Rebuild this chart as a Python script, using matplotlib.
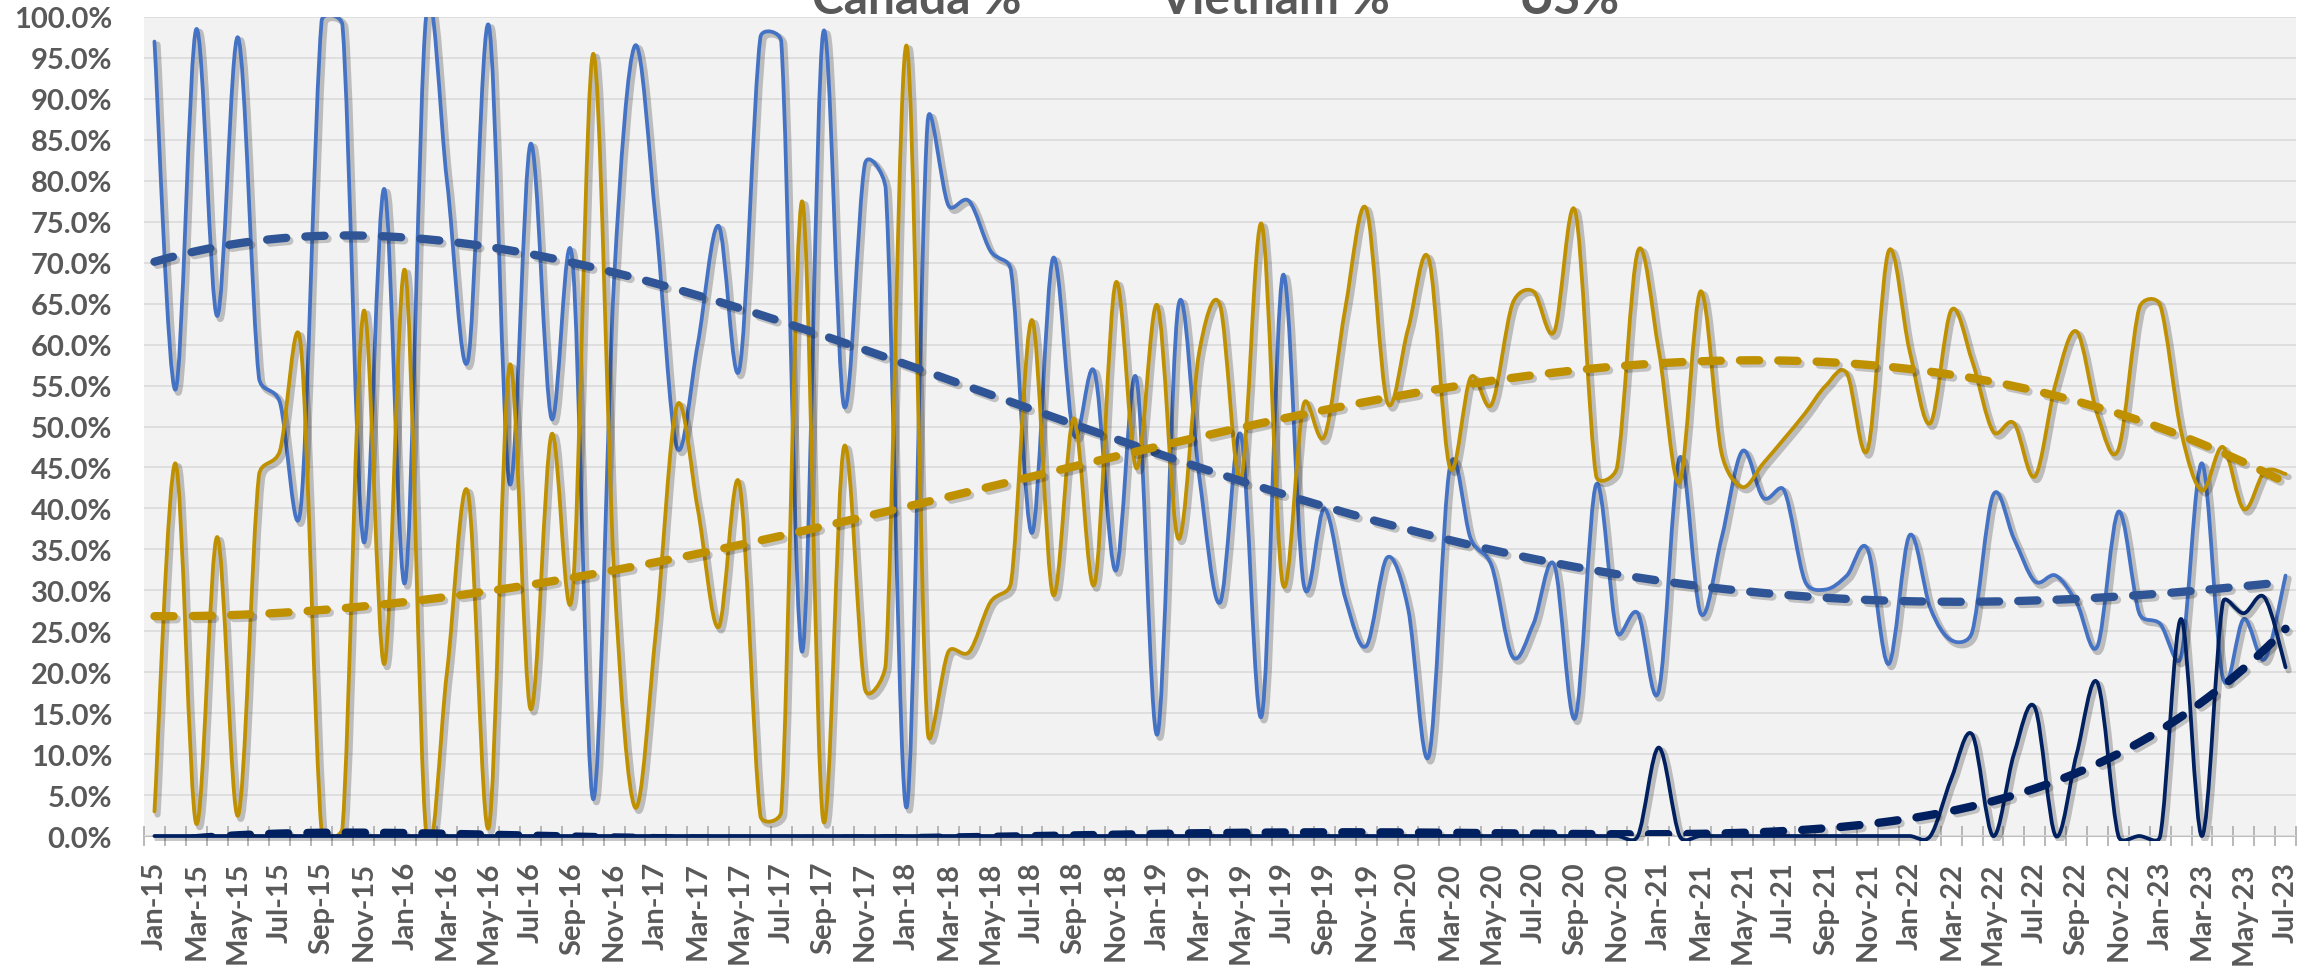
import numpy as np
import matplotlib
matplotlib.use("Agg")
import matplotlib.pyplot as plt
import matplotlib.patheffects as pe
from matplotlib.path import Path
from matplotlib.patches import PathPatch, Rectangle
from matplotlib.ticker import PercentFormatter

plt.rcParams['font.family'] = ['Lato', 'DejaVu Sans']

month_names = ["Jan", "Feb", "Mar", "Apr", "May", "Jun",
               "Jul", "Aug", "Sep", "Oct", "Nov", "Dec"]
# Jan-15 .. Jul-23
labels = [f"{m}-{y}" for y in range(15, 24) for m in month_names][:103]

canada = [97, 54.5, 98.5, 63.5, 97.5, 56, 53, 40, 99.5, 99, 36, 79,
          31, 100, 80, 58, 99, 43, 84.5, 51, 70.5, 4.5, 68, 96.5,
          75, 47.5, 60, 74.5, 57, 97.5, 97, 22.5, 98, 52.5, 82, 79,
          3.5, 87, 77, 77.5, 71.5, 69, 37, 70.5, 49, 56.6, 32.4, 55.9,
          12.4, 64.6, 44, 28.5, 49, 14.7, 68.4, 30.8, 40, 29, 23.2, 34,
          27.8, 9.8, 45, 36.3, 33, 21.9, 25.9, 33.1, 14.4, 42.9, 24.9, 27.2,
          17.7, 46.2, 27.2, 36.3, 47, 41.3, 42.2, 31.1, 30.1, 31.8, 35, 21,
          36.7, 27.8, 23.9, 24.9, 41.6, 36.3, 31.1, 31.8, 28.5, 23.2, 39.6, 27.2,
          25.9, 21.9, 45.5, 19.3, 26.5, 21.6, 31.8]

vietnam = [3, 45.5, 1.5, 36.5, 2.5, 44, 47, 60, 0.5, 1, 64, 21,
           69, 0.5, 20, 42, 1, 57.5, 15.5, 49, 29.5, 95.5, 32, 3.5,
           25, 52.5, 40, 25.5, 43, 2.5, 3, 77.5, 2, 47.5, 18, 21,
           96.5, 13, 22.5, 22.5, 28.5, 31, 63, 29.5, 51, 30.8, 67.5, 44.9,
           64.8, 36.3, 59, 64.8, 43.5, 74.7, 30.8, 52.7, 48.8, 64.5, 76.6, 53,
           61.9, 70.4, 45, 56, 52.7, 65, 66.5, 61.6, 76.3, 44, 45, 71.4,
           59.3, 43.2, 66.5, 46.8, 42.6, 45.5, 48.5, 51.6, 55, 56.5, 47.2, 71.4,
           59.3, 50.4, 64.2, 58, 49.4, 50.4, 43.9, 55.3, 61.6, 51.4, 47.2, 64.5,
           64.8, 49.4, 42.2, 47.5, 39.9, 44.5, 44.2]

us = [0] * 72 + [10.8] + [0] * 13 + [7, 12.4, 0, 10, 15.7, 0, 10, 18.7,
                                     0, 0, 0, 26.5, 0, 28.5, 27.2, 29.1, 20.6]

series_names = ["Canada %", "Vietnam %", "US%"]
line_colors = ["#4472C4", "#BF9000", "#002060"]
trend_colors = ["#2F5597", "#BF9000", "#002060"]
trend_orders = [4, 4, 5]


def smooth_path(ax, y):
    # Excel-style smoothed line: bezier through the points, with the
    # control arms capped at half the segment length (in pixels)
    n = len(y)
    pts = ax.transData.transform(np.column_stack([np.arange(n), y]).astype(float))
    verts = [pts[0]]
    codes = [Path.MOVETO]
    for i in range(n - 1):
        p0, p1, p2, p3 = pts[max(i - 1, 0)], pts[i], pts[i + 1], pts[min(i + 2, n - 1)]
        d12 = np.hypot(*(p2 - p1))
        d02 = np.hypot(*(p2 - p0))
        d13 = np.hypot(*(p3 - p1))
        f1 = 1 / 6 if d02 / 6 < d12 / 2 else d12 / 2 / d02
        f2 = 1 / 6 if d13 / 6 < d12 / 2 else d12 / 2 / d13
        verts += [p1 + f1 * (p2 - p0), p2 - f2 * (p3 - p1), p2]
        codes += [Path.CURVE4] * 3
    verts = ax.transData.inverted().transform(np.array(verts))
    return Path(verts, codes)


fig = plt.figure(figsize=(23.23, 9.70), dpi=100)
ax = fig.add_axes([144 / 2323, 1 - 837 / 970, (2296 - 144) / 2323, (837 - 18) / 970])
ax.set_facecolor("#F2F2F2")

x = np.arange(len(canada))
ax.set_xlim(-0.5, len(x) - 0.5)
ax.set_ylim(0, 100)

shadow = [pe.SimpleLineShadow(offset=(2.2, -2.2), shadow_color="black", alpha=0.22, linewidth=4.5),
          pe.Normal()]

data = [canada, vietnam, us]
for vals, col, name in zip(data, line_colors, series_names):
    patch = PathPatch(smooth_path(ax, vals), fill=False, edgecolor=col, lw=2.7,
                      capstyle="round", joinstyle="round", path_effects=shadow,
                      zorder=3, label=name)
    ax.add_patch(patch)
    if name == "US%":
        # keep the full width of the line lying on the 0% axis
        patch.set_clip_path(Rectangle((0, -0.006), 1, 1.006, transform=ax.transAxes))

# polynomial trend lines
xf = np.linspace(0, len(x) - 1, 500)
for vals, col, order in zip(data, trend_colors, trend_orders):
    coef = np.polyfit(x, vals, order)
    ax.plot(xf, np.polyval(coef, xf), color=col, lw=6, dashes=(2.3, 2.3),
            dash_capstyle="round", zorder=4,
            path_effects=[pe.SimpleLineShadow(offset=(2.2, -2.2), alpha=0.2), pe.Normal()])

ax.set_yticks(np.arange(0, 101, 5))
ax.yaxis.set_major_formatter(PercentFormatter(100, decimals=1))
ax.yaxis.grid(True, color="#D9D9D9", lw=1.1)
ax.set_axisbelow(True)

ax.set_xticks(x[::2])
ax.set_xticklabels(labels[::2], rotation=90)
ax.set_xticks(np.arange(-0.5, len(x), 1), minor=True)
ax.tick_params(axis="x", which="major", length=0, pad=18, labelsize=21, labelcolor="#595959")
ax.tick_params(axis="x", which="minor", length=15, width=1.1, direction="inout", color="#A6A6A6")
ax.tick_params(axis="y", length=0, pad=23, labelsize=21, labelcolor="#595959")
for lab in ax.get_xticklabels() + ax.get_yticklabels():
    lab.set_fontweight("bold")

for s in ["top", "right", "left"]:
    ax.spines[s].set_visible(False)
ax.spines["bottom"].set_color("#BFBFBF")

# legend text sits partly above the top edge, as in the original
for name, xpos in zip(series_names, [812, 1159, 1519]):
    fig.text(xpos / 2323, 1 - 14 / 970, name, fontsize=34.5, fontweight="bold",
             color="#595959", ha="left", va="baseline")

fig.savefig("out.png", dpi=100)
